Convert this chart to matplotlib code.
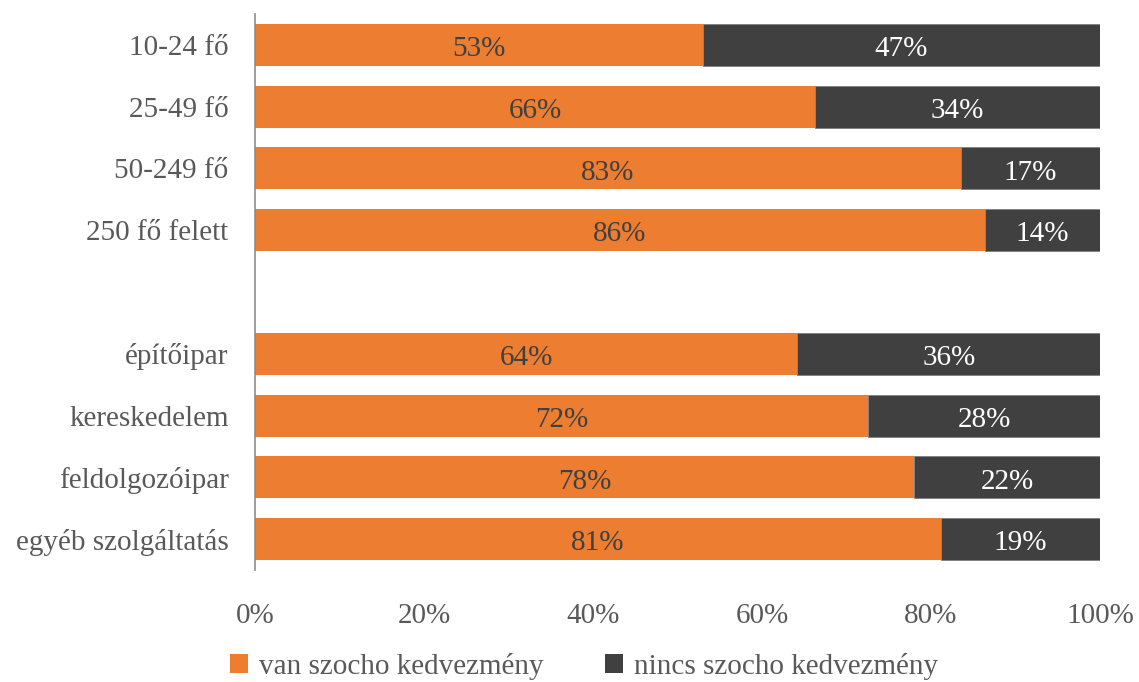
import matplotlib
import matplotlib.pyplot as plt
import numpy as np

plt.rcParams['font.family'] = ['Liberation Serif', 'DejaVu Serif']

categories = ["10-24 fő", "25-49 fő", "50-249 fő", "250 fő felett", "",
              "építőipar", "kereskedelem", "feldolgozóipar", "egyéb szolgáltatás"]
van = [53.0, 66.3, 83.5, 86.4, None, 64.2, 72.6, 78.0, 81.2]
van_labels = ["53%", "66%", "83%", "86%", "", "64%", "72%", "78%", "81%"]
nincs_labels = ["47%", "34%", "17%", "14%", "", "36%", "28%", "22%", "19%"]
series_names = ["van szocho kedvezmény", "nincs szocho kedvezmény"]

ORANGE = "#ED7D31"
DARK = "#404040"
GREY = "#595959"

fig = plt.figure(figsize=(11.39, 6.82), dpi=100)
ax = fig.add_axes([255 / 1139, 1 - 570 / 682, 845 / 1139, 556 / 682])

y = np.arange(len(categories))
for i, v in enumerate(van):
    if v is None:
        continue
    ax.barh(i, v, height=0.68, color=ORANGE, edgecolor="none",
            label=series_names[0] if i == 0 else None)
    ax.barh(i, 100 - v, left=v, height=0.68, color=DARK, edgecolor="#7f7f7f", linewidth=0.6,
            label=series_names[1] if i == 0 else None)
    ax.text(v / 2, i + 0.02, van_labels[i], ha="center", va="center_baseline", fontsize=21, color=DARK)
    ax.text(v + (100 - v) / 2, i + 0.02, nincs_labels[i], ha="center", va="center_baseline",
            fontsize=21, color="white")

ax.set_xlim(0, 100)
ax.set_ylim(len(categories) - 0.5, -0.5)
ax.set_yticks(y)
ax.set_yticklabels(categories, fontsize=21, color=GREY)
ax.set_xticks(np.arange(0, 101, 20))
ax.set_xticklabels([f"{t}%" for t in range(0, 101, 20)], fontsize=21, color=GREY)
ax.tick_params(axis="both", length=0)
ax.tick_params(axis="y", pad=19)
ax.tick_params(axis="x", pad=24)
for s in ["top", "right", "bottom"]:
    ax.spines[s].set_visible(False)
ax.spines["left"].set_color("#8c8c8c")
ax.spines["left"].set_linewidth(1.2)

leg = fig.legend(loc="lower center", bbox_to_anchor=(0.513, -0.035), ncol=2, frameon=False,
                 fontsize=21, handlelength=0.6, handleheight=0.6, handletextpad=0.4,
                 columnspacing=2.1, labelcolor=GREY)
for h in leg.legend_handles:
    h.set_edgecolor("none")

fig.savefig("out.png", dpi=100)
